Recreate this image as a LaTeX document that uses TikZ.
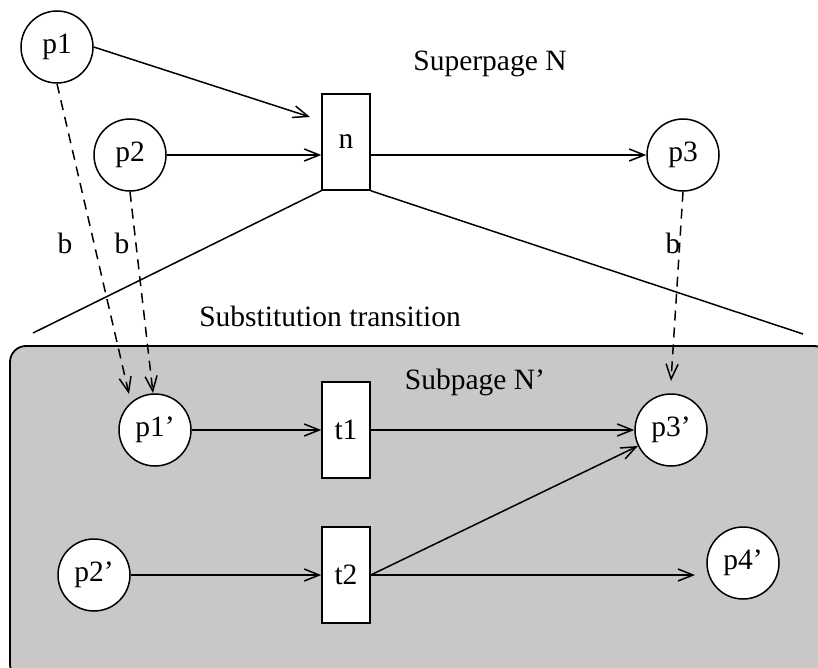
\documentclass[tikz,border=0pt]{standalone}
\usepackage{fontspec}
\setmainfont{Liberation Serif}
\usetikzlibrary{arrows.meta}
\definecolor{subfill}{RGB}{200,200,200}
\begin{document}
\begin{tikzpicture}[x=1pt,y=-1pt,
  every node/.style={font=\fontsize{29.5}{33}\selectfont},
  place/.style={circle,draw,fill=white,line width=1.5pt,minimum size=72pt,inner sep=0pt},
  trans/.style={rectangle,draw,fill=white,line width=1.5pt,minimum width=48pt,minimum height=96pt,inner sep=0pt},
  arc/.style={line width=1.5pt,-{Straight Barb[length=15pt,width=12pt,line width=1.5pt]}},
  link/.style={arc,dash pattern=on 10pt off 7pt},
  edge/.style={line width=1.5pt},
  lbl/.style={inner sep=0pt}]
\useasboundingbox (0,0) rectangle (818,668);

% subpage background
\begin{scope}
  \clip (0,0) rectangle (818,668);
  \draw[line width=1.8pt, fill=subfill, rounded corners=16pt] (10,346) rectangle (830,680);
\end{scope}

% superpage
\node[place] (p1) at (57,47) {p1};
\node[place] (p2) at (130,155) {p2};
\node[trans] (n) at (346,142) {n};
\node[place] (p3) at (683,155) {p3};
\node[lbl] (sup) at (490,64) {Superpage N};

% subpage
\node[place] (q1) at (155,430) {p1'};
\node[trans] (t1) at (346,430) {t1};
\node[place] (q3) at (671,430) {p3'};
\node[place] (q2) at (94,575) {p2'};
\node[trans] (t2) at (346,575) {t2};
\node[place] (q4) at (743,563) {p4'};
\node[lbl] (sub) at (475,382) {Subpage N'};
\node[lbl] (st) at (330,316) {Substitution transition};

% helper points
\coordinate (nin) at (310,117);
\coordinate (zl) at (33,333);
\coordinate (zr) at (803,334);
\coordinate (q1a) at (129,394);
\coordinate (q1b) at (153,393);
\coordinate (q3a) at (671,381);
\coordinate (q4in) at (695,575);

% arcs of the superpage
\draw[arc] (p1.east) -- (nin);
\draw[arc] (p2) -- (n.west |- p2);
\draw[arc] (n.east |- p3) -- (p3);

% zoom lines of the substitution transition
\draw[edge] (n.south west) -- (zl);
\draw[edge] (n.south east) -- (zr);

% port assignments
\draw[link] (p1.south) -- (q1a);
\draw[link] (p2.south) -- (q1b);
\draw[link] (p3.south) -- (q3a);
\node[lbl] (b1) at (65,243) {b};
\node[lbl] (b2) at (122,243) {b};
\node[lbl] (b3) at (673,243) {b};

% arcs of the subpage
\draw[arc] (q1) -- (t1);
\draw[arc] (t1) -- (q3);
\draw[arc] (q2) -- (t2);
\draw[arc] (t2.east) -- (q3);
\draw[arc] (t2.east) -- (q4in);
\end{tikzpicture}
\end{document}
